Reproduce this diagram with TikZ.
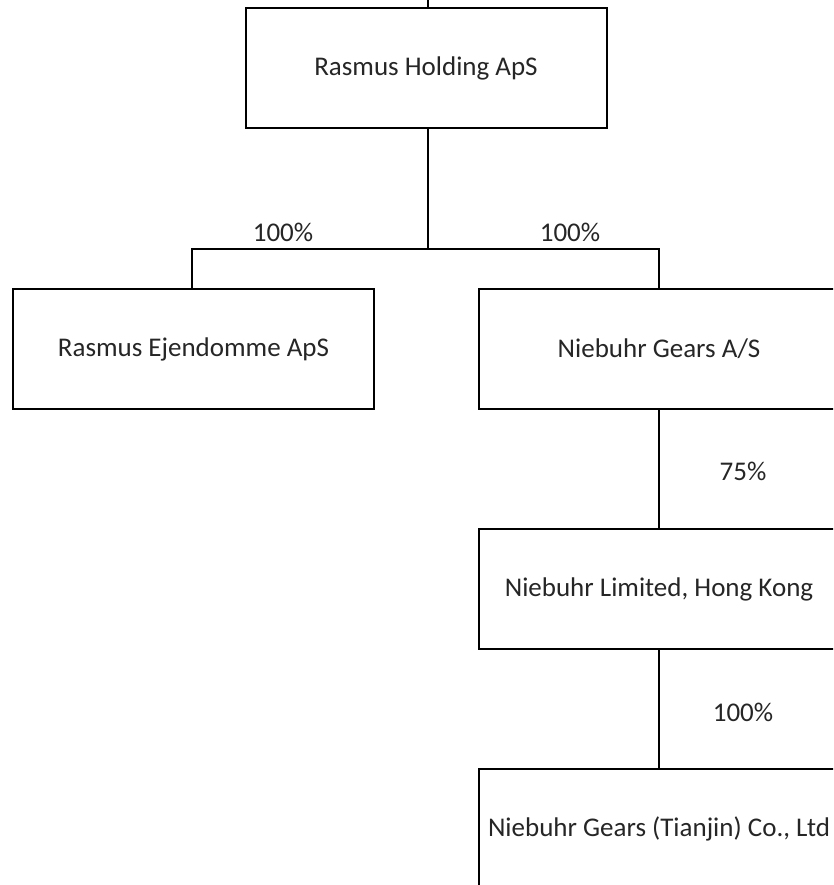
\documentclass[tikz,border=0pt]{standalone}
\usepackage{fontspec}
\setmainfont{Carlito}
\begin{document}
\begin{tikzpicture}[x=1pt,y=-1pt,
  entity/.style={draw=black,line width=2pt,minimum width=361pt,minimum height=120pt,inner sep=0pt,font=\fontsize{27}{32}\selectfont,text=black!85},
  pct/.style={font=\fontsize{27}{32}\selectfont,text=black!85,inner sep=0pt},
  link/.style={draw=black,line width=1.8pt}]
\useasboundingbox (0,0) rectangle (833,885);
\clip (0,0) rectangle (833,885);
\node[entity] (hold) at (426,68) {Rasmus Holding ApS};
\node[entity] (ejen) at (193.5,349) {Rasmus Ejendomme ApS};
\node[entity] (gears) at (659,349) {Niebuhr Gears A/S};
\node[entity] (hk) at (659,589) {Niebuhr Limited, Hong Kong};
\node[entity] (tj) at (659,829) {Niebuhr Gears (Tianjin) Co., Ltd};
\coordinate (top) at (428,-5);
\coordinate (jL) at (192,249);
\coordinate (jR) at (659,249);
\coordinate (jM) at (428,249);
\draw[link] (top) -- (428,0 |- hold.north);
\draw[link] (hold.south -| jM) -- (jM);
\draw[link] (ejen.north -| jL) -- (jL) -- (jR) -- (gears.north);
\draw[link] (gears.south) -- (hk.north);
\draw[link] (hk.south) -- (tj.north);
\node[pct] (p1) at (283,232) {100\%};
\node[pct] (p2) at (570,232) {100\%};
\node[pct] (p3) at (743,471) {75\%};
\node[pct] (p4) at (743,712) {100\%};
\end{tikzpicture}
\end{document}
